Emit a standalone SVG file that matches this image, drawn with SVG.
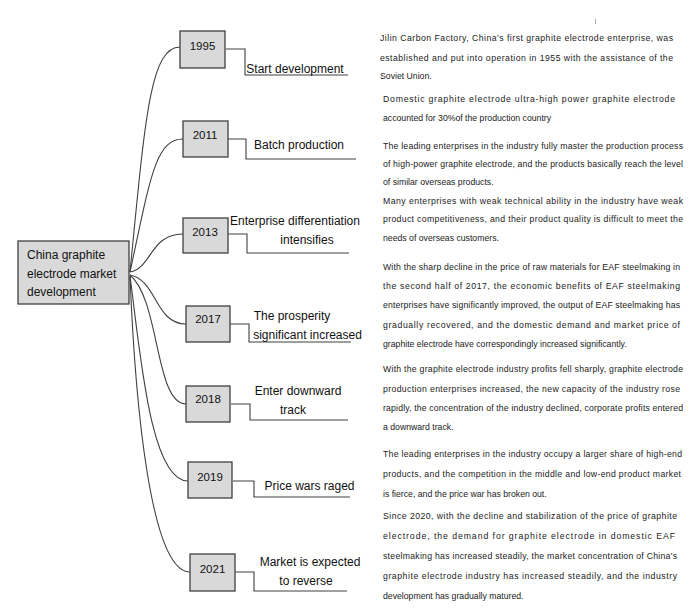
<svg xmlns="http://www.w3.org/2000/svg" width="700" height="616" viewBox="0 0 700 616">
<style>
.box{fill:#d9d9d9;stroke:#404040;stroke-width:1.3}
.conn{fill:none;stroke:#404040;stroke-width:1.1}
.yr{font-family:"Liberation Sans",Arial,sans-serif;font-size:11.5px;fill:#111;text-anchor:middle}
.lbl{font-family:"Liberation Sans",Arial,sans-serif;font-size:12px;fill:#111;text-anchor:middle}
.root{font-family:"Liberation Sans",Arial,sans-serif;font-size:12px;fill:#111}
.body{font-family:"Liberation Sans",Arial,sans-serif;font-size:8.7px;fill:#222}
</style>
<rect width="700" height="616" fill="#fff"/>
<g id="connectors">
<path class="conn" d="M130,272 C145,120 150,47 180,47"/>
<path class="conn" d="M130,272 C150,180 155,139 183,139"/>
<path class="conn" d="M130,272 C152,268 150,234 183,234"/>
<path class="conn" d="M130,275 C157,280 155,324 186,324"/>
<path class="conn" d="M130,275 C160,300 155,404 186,404"/>
<path class="conn" d="M130,276 C140,350 150,481 188,481"/>
<path class="conn" d="M130,276 C135,400 150,572 190,572"/>
<path class="conn" d="M226,49 H245 V75 H348"/>
<path class="conn" d="M228,139 H246 V159 H356"/>
<path class="conn" d="M228,234 H247 V253 H349"/>
<path class="conn" d="M230,324 H249 V342 H351"/>
<path class="conn" d="M231,404 H250 V420 H348"/>
<path class="conn" d="M233,481 H254 V497 H350"/>
<path class="conn" d="M235,572 H254 V591 H347"/>
</g>
<g id="root">
<rect class="box" x="18" y="241" width="111" height="63"/>
<text class="root" x="27" y="259">China graphite</text>
<text class="root" x="27" y="278">electrode market</text>
<text class="root" x="27" y="296">development</text>
</g>
<g id="n1995">
<rect class="box" x="180" y="31" width="45" height="37"/>
<text class="yr" x="202.5" y="50">1995</text>
<text class="lbl" x="295" y="73">Start development</text>
</g>
<g id="n2011">
<rect class="box" x="183" y="121" width="45" height="36"/>
<text class="yr" x="205" y="139">2011</text>
<text class="lbl" x="299" y="149">Batch production</text>
</g>
<g id="n2013">
<rect class="box" x="183" y="218" width="45" height="35"/>
<text class="yr" x="205" y="236">2013</text>
<text class="lbl" x="295" y="225">Enterprise differentiation</text>
<text class="lbl" x="307" y="244">intensifies</text>
</g>
<g id="n2017">
<rect class="box" x="186" y="306" width="44" height="36"/>
<text class="yr" x="208" y="323">2017</text>
<text class="lbl" x="292" y="320">The prosperity</text>
<text class="lbl" x="307.5" y="339">significant increased</text>
</g>
<g id="n2018">
<rect class="box" x="186" y="386" width="44" height="36"/>
<text class="yr" x="208" y="403">2018</text>
<text class="lbl" x="298" y="395">Enter downward</text>
<text class="lbl" x="293" y="414">track</text>
</g>
<g id="n2019">
<rect class="box" x="188" y="462" width="44" height="36"/>
<text class="yr" x="210" y="481">2019</text>
<text class="lbl" x="309.5" y="490">Price wars raged</text>
</g>
<g id="n2021">
<rect class="box" x="190" y="554" width="45" height="37"/>
<text class="yr" x="212.5" y="573">2021</text>
<text class="lbl" x="310" y="566">Market is expected</text>
<text class="lbl" x="306" y="585">to reverse</text>
</g>
<g id="notes">
<text class="body" x="380" y="41" textLength="293" lengthAdjust="spacing">Jilin Carbon Factory, China's first graphite electrode enterprise, was</text>
<text class="body" x="380" y="61" textLength="293" lengthAdjust="spacing">established and put into operation in 1955 with the assistance of the</text>
<text class="body" x="380" y="79">Soviet Union.</text>
<text class="body" x="383" y="102" textLength="292" lengthAdjust="spacing">Domestic graphite electrode ultra-high power graphite electrode</text>
<text class="body" x="383" y="121">accounted for 30%of the production country</text>
<text class="body" x="383" y="149" textLength="300" lengthAdjust="spacing">The leading enterprises in the industry fully master the production process</text>
<text class="body" x="383" y="167" textLength="300" lengthAdjust="spacing">of high-power graphite electrode, and the products basically reach the level</text>
<text class="body" x="383" y="185">of similar overseas products.</text>
<text class="body" x="383" y="204" textLength="300" lengthAdjust="spacing">Many enterprises with weak technical ability in the industry have weak</text>
<text class="body" x="383" y="222" textLength="300" lengthAdjust="spacing">product competitiveness, and their product quality is difficult to meet the</text>
<text class="body" x="383" y="241">needs of overseas customers.</text>
<text class="body" x="383" y="270" textLength="297" lengthAdjust="spacing">With the sharp decline in the price of raw materials for EAF steelmaking in</text>
<text class="body" x="383" y="289" textLength="297" lengthAdjust="spacing">the second half of 2017, the economic benefits of EAF steelmaking</text>
<text class="body" x="383" y="308" textLength="297" lengthAdjust="spacing">enterprises have significantly improved, the output of EAF steelmaking has</text>
<text class="body" x="383" y="328" textLength="297" lengthAdjust="spacing">gradually recovered, and the domestic demand and market price of</text>
<text class="body" x="383" y="347">graphite electrode have correspondingly increased significantly.</text>
<text class="body" x="383" y="372" textLength="300" lengthAdjust="spacing">With the graphite electrode industry profits fell sharply, graphite electrode</text>
<text class="body" x="383" y="392" textLength="297" lengthAdjust="spacing">production enterprises increased, the new capacity of the industry rose</text>
<text class="body" x="383" y="411" textLength="300" lengthAdjust="spacing">rapidly, the concentration of the industry declined, corporate profits entered</text>
<text class="body" x="383" y="430">a downward track.</text>
<text class="body" x="383" y="457" textLength="299" lengthAdjust="spacing">The leading enterprises in the industry occupy a larger share of high-end</text>
<text class="body" x="383" y="477" textLength="298" lengthAdjust="spacing">products, and the competition in the middle and low-end product market</text>
<text class="body" x="383" y="497">is fierce, and the price war has broken out.</text>
<text class="body" x="383" y="519" textLength="294" lengthAdjust="spacing">Since 2020, with the decline and stabilization of the price of graphite</text>
<text class="body" x="383" y="539" textLength="292" lengthAdjust="spacing">electrode, the demand for graphite electrode in domestic EAF</text>
<text class="body" x="383" y="559" textLength="294" lengthAdjust="spacing">steelmaking has increased steadily, the market concentration of China's</text>
<text class="body" x="383" y="579" textLength="294" lengthAdjust="spacing">graphite electrode industry has increased steadily, and the industry</text>
<text class="body" x="383" y="599">development has gradually matured.</text>
</g>
<line x1="595.5" y1="19" x2="595.5" y2="24" stroke="#aaa" stroke-width="1"/>
</svg>
